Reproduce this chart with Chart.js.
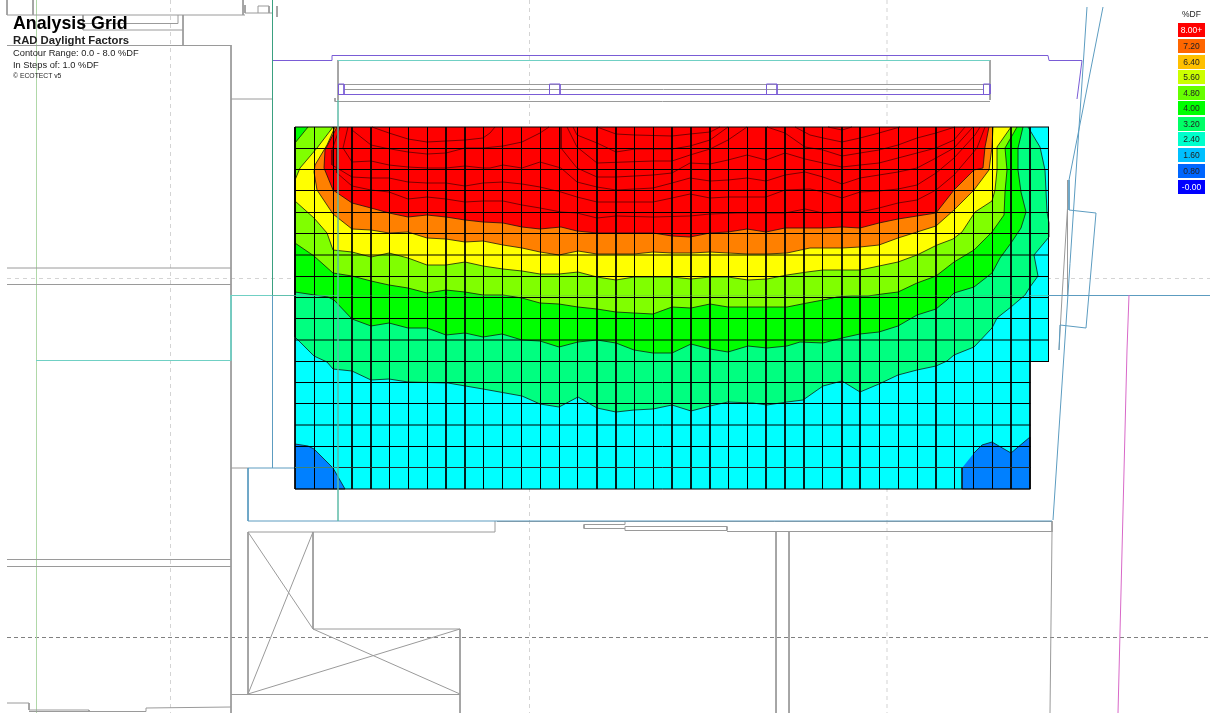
<!DOCTYPE html>
<html lang="en">
<head>
    <meta charset="UTF-8">
    <title>Analysis Grid - RAD Daylight Factors</title>
    <script src="https://cdn.jsdelivr.net/npm/chart.js"></script>
    <style>
        html, body { margin: 0; padding: 0; background: #fff; overflow: hidden; }
        body { font-family: "Liberation Sans", Arial, sans-serif; }
        #wrap { position: relative; width: 1210px; height: 713px; }
        #plan { position: absolute; left: 0; top: 0; }
        .caption { position: absolute; left: 13px; white-space: nowrap; color: #222; }
        #legend { position: absolute; left: 1178px; top: 0; width: 27px; height: 200px; }
        #legend div { position: absolute; left: 0; width: 27px; height: 14px; line-height: 14px; font-size: 8.5px; text-align: center; color: #222; }
    </style>
</head>
<body>
<div id="wrap">
    <canvas id="plan" width="1210" height="713"></canvas>
    <div class="caption" style="top:13px;font-size:17.8px;font-weight:bold;color:#000">Analysis Grid</div>
    <div class="caption" style="top:34px;font-size:11.3px;font-weight:bold">RAD Daylight Factors</div>
    <div class="caption" style="top:48px;font-size:9.3px">Contour Range: 0.0 - 8.0 %DF</div>
    <div class="caption" style="top:60px;font-size:9.3px">In Steps of: 1.0 %DF</div>
    <div class="caption" style="top:72px;font-size:6.8px">© ECOTECT v5</div>
    <div id="legend"></div>
</div>
<script>
    // Analysis grid lines
    const gridX = [295, 314.5, 333.5, 352, 371, 389.5, 408.5, 427.5, 446, 465, 483.5, 502.5, 521.5, 540.5,
        559.5, 577.5, 597, 616, 634.5, 653.5, 672, 691, 710, 728.5, 747.5, 766, 785, 804, 822.5, 842, 860,
        879.5, 898.5, 917.5, 936, 954.5, 973.5, 992.5, 1011, 1030, 1048.5];
    const gridY = [127, 148.5, 169.5, 190.5, 212.5, 233.5, 255, 276.5, 297.5, 318.5, 340, 361.5, 382.5,
        403.5, 425, 446.5, 467.5, 489];

    // Legend
    const legendLabels = ['8.00+', '7.20', '6.40', '5.60', '4.80', '4.00', '3.20', '2.40', '1.60', '0.80', '-0.00'];
    const legendColors = ['#ff0000', '#ff6600', '#ffc000', '#ccff00', '#66ff00', '#00ff00', '#00ff66', '#00ffcc', '#00c0ff', '#0066ff', '#0000ff'];
    const legendTops = [23, 39, 54.5, 70, 85.5, 101, 117, 132, 148, 164, 180];

    // Contour bands, lowest level first
    const gridOutline = [[295, 127], [1049, 127], [1049, 361], [1030, 361], [1030, 489], [295, 489]];
    const contourSpring = [[295, 127], [295, 337], [314, 356], [327, 362], [333, 369], [352, 371], [371, 380], [389, 379], [408, 382], [448, 383], [483, 389], [522, 396], [540, 404], [559, 407], [578, 397], [597, 408], [616, 412], [634, 410], [653, 409], [672, 405], [691, 411], [710, 406], [728, 402], [753, 403], [767, 405], [787, 402], [803, 400], [823, 386], [842, 381], [860, 392], [879, 384], [898, 375], [917, 370], [936, 366], [947, 361], [954, 355], [974, 347], [992, 328], [997, 318], [1011, 307], [1025, 295], [1030, 287], [1038, 276], [1034, 255], [1049, 237], [1049, 223], [1047, 212], [1045, 170], [1040, 147], [1028, 127]];
    const contourGreen = [[295, 127], [295, 292], [328, 297], [334, 300], [352, 319], [371, 326], [389, 323], [408, 328], [427, 328], [446, 335], [465, 333], [483, 337], [502, 334], [522, 340], [540, 341], [559, 347], [578, 342], [597, 340], [616, 343], [634, 350], [653, 353], [672, 353], [691, 344], [710, 349], [728, 352], [748, 346], [767, 348], [787, 346], [800, 342], [823, 343], [842, 338], [860, 334], [879, 332], [898, 326], [917, 315], [936, 309], [947, 300], [954, 293], [974, 287], [992, 273], [1000, 258], [1011, 243], [1021, 228], [1026, 212], [1021, 192], [1018, 170], [1018, 148], [1023, 127]];
    const contourLime = [[308, 127], [295, 143], [295, 243], [314, 256], [333, 273], [352, 276], [371, 281], [389, 285], [408, 288], [427, 293], [446, 290], [465, 292], [483, 295], [503, 295], [522, 298], [540, 303], [559, 304], [578, 307], [597, 309], [616, 312], [634, 313], [653, 314], [672, 307], [691, 308], [710, 304], [728, 307], [748, 307], [767, 307], [787, 307], [807, 303], [823, 300], [837, 297], [852, 296], [868, 296], [882, 294], [898, 292], [917, 283], [936, 276], [954, 262], [974, 250], [992, 232], [1004, 215], [1005, 192], [1007, 170], [1005, 148], [1017, 127]];
    const contourYellow = [[333, 127], [317, 148], [300, 168], [295, 180], [295, 201], [314, 218], [327, 233], [333, 250], [352, 252], [371, 257], [389, 253], [408, 258], [427, 265], [446, 265], [465, 262], [483, 266], [503, 269], [522, 271], [540, 274], [559, 274], [578, 272], [597, 277], [616, 280], [634, 277], [653, 277], [672, 277], [691, 279], [710, 277], [728, 277], [748, 280], [767, 279], [787, 275], [807, 272], [823, 270], [842, 270], [860, 270], [879, 266], [898, 262], [917, 255], [937, 245], [953, 239], [962, 232], [975, 212], [992, 201], [995, 190], [997, 170], [997, 147], [1011, 127]];
    const contourOrange = [[335, 127], [327, 145], [315, 165], [314, 172], [317, 190], [333, 214], [352, 229], [371, 230], [389, 233], [408, 232], [427, 238], [446, 239], [465, 242], [483, 241], [503, 245], [522, 248], [540, 252], [559, 255], [578, 251], [597, 254], [634, 254], [653, 252], [672, 253], [691, 253], [710, 252], [728, 253], [748, 254], [767, 254], [787, 253], [810, 248], [842, 248], [860, 247], [879, 245], [898, 238], [917, 232], [936, 226], [954, 210], [974, 190], [989, 170], [992, 147], [993, 127]];
    const contourRed = [[337, 127], [325, 150], [324, 168], [333, 190], [352, 203], [371, 208], [389, 213], [408, 217], [427, 215], [446, 217], [465, 220], [483, 222], [503, 223], [522, 227], [540, 229], [561, 227], [577, 231], [597, 233], [653, 233], [672, 236], [690, 237], [710, 233], [728, 232], [747, 229], [766, 232], [785, 228], [810, 228], [823, 228], [842, 227], [860, 228], [879, 223], [898, 219], [917, 216], [936, 213], [954, 190], [974, 170], [983, 168], [985, 147], [989, 127]];
    const cornerLeft = [[295, 444], [308, 446], [314, 449], [333, 468], [345, 489], [295, 489]];
    const cornerRight = [[962, 468], [962, 489], [1030, 489], [1030, 437], [1011, 453], [992, 442], [982, 445], [974, 453]];

    // Contours above the top colour level, inside the red band
    const redLines = [
        [[372, 127], [389, 133], [408, 139], [427, 142], [446, 141], [465, 140], [483, 138], [490, 133], [495, 127]],
        [[352, 130], [371, 145], [385, 148], [408, 152], [427, 154], [446, 153], [465, 148], [483, 148], [503, 146], [522, 142], [540, 133], [549, 127]],
        [[348, 127], [343, 148], [352, 162], [371, 161], [389, 165], [408, 167], [427, 168], [446, 168], [465, 166], [483, 168], [490, 168], [503, 165], [522, 168], [540, 162], [561, 168], [577, 182], [597, 187], [616, 190], [653, 188], [672, 183], [690, 178], [710, 181], [728, 180], [747, 178], [766, 181], [785, 175], [805, 172], [823, 177], [842, 184], [860, 178], [879, 175], [898, 172], [917, 168], [936, 158], [954, 148], [973, 127]],
        [[340, 127], [332, 150], [332, 165], [352, 177], [371, 178], [389, 178], [408, 182], [427, 183], [446, 183], [465, 186], [483, 183], [503, 182], [522, 184], [540, 187], [561, 192], [577, 197], [597, 202], [653, 202], [672, 198], [690, 194], [710, 198], [728, 197], [766, 197], [785, 190], [810, 189], [823, 192], [842, 198], [860, 192], [879, 191], [898, 189], [917, 185], [936, 173], [954, 158], [975, 135], [980, 127]],
        [[337, 148], [337, 173], [352, 186], [371, 190], [389, 192], [408, 199], [427, 197], [446, 199], [465, 202], [483, 201], [503, 201], [522, 205], [540, 208], [561, 212], [577, 213], [597, 218], [616, 216], [653, 217], [690, 216], [710, 214], [737, 213], [785, 213], [805, 209], [823, 213], [842, 212], [860, 212], [879, 208], [898, 203], [917, 200], [936, 190], [954, 175], [977, 148], [985, 127]],
        [[561, 127], [561, 148], [577, 168], [597, 177], [616, 177], [653, 175], [672, 173], [690, 163], [710, 164], [728, 160], [747, 155], [766, 160], [785, 153], [805, 159], [823, 163], [842, 167], [860, 165], [879, 163], [898, 158], [917, 153], [936, 148], [954, 140], [965, 127]],
        [[567, 127], [577, 147], [597, 163], [653, 161], [672, 161], [690, 155], [710, 149], [728, 140], [747, 127]],
        [[573, 127], [577, 135], [597, 143], [616, 152], [635, 149], [672, 149], [690, 146], [710, 140], [728, 127]],
        [[597, 127], [616, 134], [635, 135], [672, 136], [690, 134], [710, 132], [720, 127]],
        [[767, 127], [785, 133], [805, 147], [823, 150], [842, 156], [860, 153], [879, 150], [898, 145], [917, 138], [936, 133], [955, 127]],
        [[795, 127], [810, 135], [823, 138], [842, 142], [860, 138], [879, 133], [900, 127]],
        [[828, 127], [842, 130], [852, 127]]
    ];

    // Building plan behind the grid
    const wallLines = [
        [[7, 0], [7, 15], [245, 15]], [[33, 0], [33, 15]], [[243, 0], [243, 15]], [[245, 5], [245, 13], [273, 13]],
        [[258, 13], [258, 6], [269, 6], [269, 13]], [[277, 6], [277, 17]], [[83, 15], [83, 30], [183, 30]],
        [[83, 23.5], [178, 23.5], [178, 15]], [[183, 15], [183, 45]], [[7, 45.5], [231, 45.5]], [[231, 45], [231, 713]],
        [[231, 99], [272, 99]], [[7, 268], [231, 268]], [[7, 284.5], [231, 284.5]], [[7, 559.5], [231, 559.5]], [[7, 566.5], [231, 566.5]],
        [[231, 468], [248, 468]], [[248, 532], [495, 532], [495, 521]], [[248, 532], [248, 694]],
        [[248, 532], [313, 629]], [[313, 532], [248, 694]], [[313, 532], [313, 629], [460, 629], [460, 713]],
        [[248, 694], [460, 629]], [[313, 629], [460, 694]], [[231, 694.5], [460, 694.5]],
        [[7, 703], [29, 703], [29, 710], [89, 710], [89, 712]], [[29, 711.5], [146, 711.5], [146, 708], [231, 707]],
        [[497, 521.5], [1052, 521.5]], [[727, 531.5], [1052, 531.5]], [[584, 524.5], [625, 524.5], [625, 521]], [[584, 524.5], [584, 528.5], [625, 528.5]],
        [[625, 526.5], [727, 526.5], [727, 530.5], [625, 530.5], [625, 526.5]],
        [[776, 532], [776, 713]], [[789, 532], [789, 713]], [[1052, 521], [1052, 532], [1050, 713]],
        [[338, 60], [338, 100]], [[990, 60], [990, 100]], [[338, 84.5], [990, 84.5]], [[344, 89.5], [983, 89.5]],
        [[335, 98], [335, 101.5], [990, 101.5]], [[1068, 200], [1062, 297], [1059, 350]], [[1067.5, 180], [1067.5, 295]]
    ];
    const purpleLines = [
        [[273, 60.5], [332, 60.5], [332, 55.5], [1048, 55.5], [1049, 60.5], [1082, 60.5], [1077, 99]],
        [[338, 94.5], [990, 94.5]], [[338.5, 84], [344, 84], [344, 94]], [[338.5, 84], [338.5, 94]],
        [[549.5, 84], [560, 84], [560, 94]], [[549.5, 84], [549.5, 94]], [[766.5, 84], [777, 84], [777, 94]], [[766.5, 84], [766.5, 94]],
        [[983.5, 84], [990, 84], [990, 94]], [[983.5, 84], [983.5, 94]]
    ];
    const tealLines = [[[338, 60.5], [990, 60.5]], [[231, 295.5], [295, 295.5]], [[231, 295], [231, 360.5]], [[36, 360.5], [231, 360.5]]];
    const blueLines = [
        [[1087, 7], [1053, 520]], [[1103, 7], [1069, 180], [1069, 210], [1096, 213], [1086, 328], [1060, 325], [1059, 350]],
        [[248, 468], [248, 521], [1052, 521]], [[272.5, 295], [272.5, 468]], [[248, 468], [295, 468]], [[1049, 295.5], [1210, 295.5]]
    ];
    const greenLines = [[[272.5, 0], [272.5, 295]]];
    const paleGreenLines = [[[36.5, 0], [36.5, 713]]];
    const pinkLines = [[[1129, 295], [1127, 350], [1118, 713]]];
    const paleDashLines = [[[170.5, 0], [170.5, 713]], [[529.5, 0], [529.5, 713]], [[887, 0], [887, 713]], [[7, 278.5], [1210, 278.5]]];
    const darkDashLines = [[[7, 637.5], [1210, 637.5]]];
    const overlayStrong = [[[338, 100], [338, 521]], [[272, 295.5], [338, 295.5]], [[295, 467.5], [338, 467.5]], [[1030, 295.5], [1049, 295.5]]];
    const overlayFaint = [[[338, 295.5], [1030, 295.5]], [[338, 467.5], [1030, 467.5]]];

    function toPoints(pairs) {
        return pairs.map(p => ({ x: p[0], y: p[1] }));
    }

    function lineSet(pairs, color, width, dash) {
        return {
            data: toPoints(pairs),
            showLine: true,
            fill: false,
            borderColor: color,
            borderWidth: width,
            borderDash: dash || [],
            pointRadius: 0
        };
    }

    function bandSet(pairs, color, stroke) {
        return {
            data: toPoints(pairs),
            showLine: true,
            fill: 'shape',
            backgroundColor: color,
            borderColor: stroke,
            borderWidth: 1,
            pointRadius: 0
        };
    }

    const contourStroke = 'rgba(15,15,15,0.75)';
    const layers = [];

    // background plan
    paleDashLines.forEach(l => layers.push(lineSet(l, '#d4d4d4', 1, [4, 4])));
    darkDashLines.forEach(l => layers.push(lineSet(l, '#808080', 1, [4, 3])));
    paleGreenLines.forEach(l => layers.push(lineSet(l, '#b0d8a8', 1)));
    wallLines.forEach(l => layers.push(lineSet(l, '#9a9a9a', 1)));
    purpleLines.forEach(l => layers.push(lineSet(l, '#7a5cd6', 1)));
    tealLines.forEach(l => layers.push(lineSet(l, '#70d0c4', 1)));
    blueLines.forEach(l => layers.push(lineSet(l, '#5c9cc0', 1)));
    greenLines.forEach(l => layers.push(lineSet(l, '#3aa080', 1)));
    pinkLines.forEach(l => layers.push(lineSet(l, '#d868c8', 1)));

    // contour bands, painted low to high
    layers.push(bandSet(gridOutline, '#00ffff', 'rgba(0,0,0,0)'));
    layers.push(bandSet(contourSpring, '#00ff80', contourStroke));
    layers.push(bandSet(contourGreen, '#00ff00', contourStroke));
    layers.push(bandSet(contourLime, '#80ff00', contourStroke));
    layers.push(bandSet(contourYellow, '#ffff00', contourStroke));
    layers.push(bandSet(contourOrange, '#ff8000', contourStroke));
    layers.push(bandSet(contourRed, '#ff0000', contourStroke));
    layers.push(bandSet(cornerLeft, '#0080ff', contourStroke));
    layers.push(bandSet(cornerRight, '#0080ff', contourStroke));
    redLines.forEach(l => layers.push(lineSet(l, 'rgba(90,0,0,0.8)', 1)));

    // grid cells; the last column stops at y = 361 where the room narrows
    gridX.forEach(x => {
        const bottom = x > 1040 ? 361.5 : 489;
        layers.push(lineSet([[x, 127], [x, bottom]], '#000', 1));
    });
    gridY.forEach(y => {
        const right = y > 362 ? 1030.5 : 1049;
        layers.push(lineSet([[295, y], [right, y]], '#000', 1));
    });

    // plan lines that sit on top of the grid
    overlayStrong.forEach(l => layers.push(lineSet(l, 'rgba(90,185,165,0.7)', 1)));
    overlayFaint.forEach(l => layers.push(lineSet(l, 'rgba(120,140,150,0.3)', 1)));

    // chart.js paints the first dataset last
    new Chart(document.getElementById('plan').getContext('2d'), {
        type: 'scatter',
        data: { datasets: layers.reverse() },
        options: {
            responsive: false,
            animation: false,
            layout: { padding: 0 },
            plugins: { legend: { display: false }, tooltip: { enabled: false }, title: { display: false } },
            scales: {
                x: { type: 'linear', min: 0, max: 1210, display: false },
                y: { type: 'linear', min: 0, max: 713, reverse: true, display: false }
            }
        }
    });

    const legend = document.getElementById('legend');
    const unit = document.createElement('div');
    unit.textContent = '%DF';
    unit.style.top = '7px';
    legend.appendChild(unit);
    legendLabels.forEach((label, i) => {
        const swatch = document.createElement('div');
        swatch.textContent = label;
        swatch.style.top = legendTops[i] + 'px';
        swatch.style.background = legendColors[i];
        if (i === 0 || i === legendLabels.length - 1) swatch.style.color = '#fff';
        legend.appendChild(swatch);
    });
</script>
</body>
</html>
